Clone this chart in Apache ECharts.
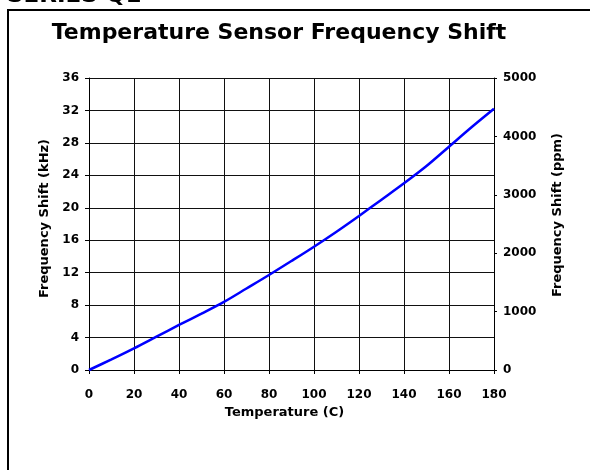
<!DOCTYPE html>
<html>
<head>
<meta charset="utf-8">
<script src="https://cdn.jsdelivr.net/npm/echarts@6/dist/echarts.min.js"></script>
<style>
html,body{margin:0;padding:0;background:#fff;}
#chart{width:590px;height:470px;}
</style>
</head>
<body>
<div id="chart"></div>
<script>
// Data
var temperatures = [0, 10, 20, 30, 40, 50, 60, 70, 80, 90, 100, 110, 120, 130, 140, 150, 160, 170, 180];
var freqShiftKHz = [0, 1.31, 2.67, 4.11, 5.55, 6.95, 8.4, 10.05, 11.71, 13.44, 15.2, 17.05, 18.99, 21.0, 23.02, 25.15, 27.53, 29.92, 32.2];
var leftTicks = [0, 4, 8, 12, 16, 20, 24, 28, 32, 36];
var rightTicks = [0, 1000, 2000, 3000, 4000, 5000];
var xTicks = [0, 20, 40, 60, 80, 100, 120, 140, 160, 180];

var FONT = '"DejaVu Sans", sans-serif';
var chart = echarts.init(document.getElementById('chart'), null, {renderer: 'canvas'});
var seriesData = temperatures.map(function (t, i) { return [t, freqShiftKHz[i]]; });
var plain = function (v) { return String(v); };

var option = {
  animation: false,
  backgroundColor: '#fff',
  title: {
    text: 'Temperature Sensor Frequency Shift',
    left: 274, top: 17, textAlign: 'center',
    textStyle: {fontFamily: FONT, fontWeight: 'bold', fontSize: 22, color: '#000'}
  },
  graphic: [
    {type: 'rect', shape: {x: 8, y: 10, width: 640, height: 520}, style: {fill: 'none', stroke: '#000', lineWidth: 2}, silent: true},
    {type: 'text', x: 7, y: -4, style: {text: 'SERIES Q1', fontFamily: FONT, fontWeight: 'bold', fontSize: 23, fill: '#000', verticalAlign: 'middle'}, silent: true}
  ],
  grid: {left: 89, right: 96, top: 78, bottom: 100, containLabel: false},
  xAxis: {
    type: 'value', min: xTicks[0], max: xTicks[xTicks.length - 1], interval: 20,
    name: 'Temperature (C)', nameLocation: 'middle', nameGap: 36,
    nameTextStyle: {fontFamily: FONT, fontWeight: 'bold', fontSize: 13, color: '#000', padding: [0, 14, 0, 0]},
    axisLine: {show: true, lineStyle: {color: '#000', width: 1}},
    axisTick: {show: true, length: 4, lineStyle: {color: '#000'}},
    axisLabel: {margin: 19, fontFamily: FONT, fontWeight: 'bold', fontSize: 12, color: '#000', formatter: plain},
    splitLine: {show: true, lineStyle: {color: '#111', width: 1}}
  },
  yAxis: [
    {
      type: 'value', min: leftTicks[0], max: leftTicks[leftTicks.length - 1], interval: 4, position: 'left',
      name: 'Frequency Shift (kHz)', nameLocation: 'middle', nameGap: 35, nameRotate: 90,
      nameTextStyle: {fontFamily: FONT, fontWeight: 'bold', fontSize: 13, color: '#000', padding: [0, 0, 0, 11]},
      axisLine: {show: true, lineStyle: {color: '#000', width: 1}},
      axisTick: {show: true, length: 4, lineStyle: {color: '#000'}},
      axisLabel: {margin: 10, fontFamily: FONT, fontWeight: 'bold', fontSize: 12, color: '#000', formatter: plain},
      splitLine: {show: true, lineStyle: {color: '#111', width: 1}}
    },
    {
      type: 'value', min: rightTicks[0], max: rightTicks[rightTicks.length - 1], interval: 1000, position: 'right',
      name: 'Frequency Shift (ppm)', nameLocation: 'middle', nameGap: 57, nameRotate: 90,
      nameTextStyle: {fontFamily: FONT, fontWeight: 'bold', fontSize: 13, color: '#000', padding: [0, 0, 0, 18]},
      axisLine: {show: true, lineStyle: {color: '#000', width: 1}},
      axisTick: {show: true, length: 3, lineStyle: {color: '#000'}},
      axisLabel: {margin: 9, fontFamily: FONT, fontWeight: 'bold', fontSize: 12, color: '#000', formatter: plain},
      splitLine: {show: false}
    }
  ],
  series: [{
    type: 'line', yAxisIndex: 0, data: seriesData, smooth: 0.3, showSymbol: false,
    lineStyle: {color: '#0000ff', width: 2.5}, itemStyle: {color: '#0000ff'}
  }]
};
chart.setOption(option);
</script>
</body>
</html>
